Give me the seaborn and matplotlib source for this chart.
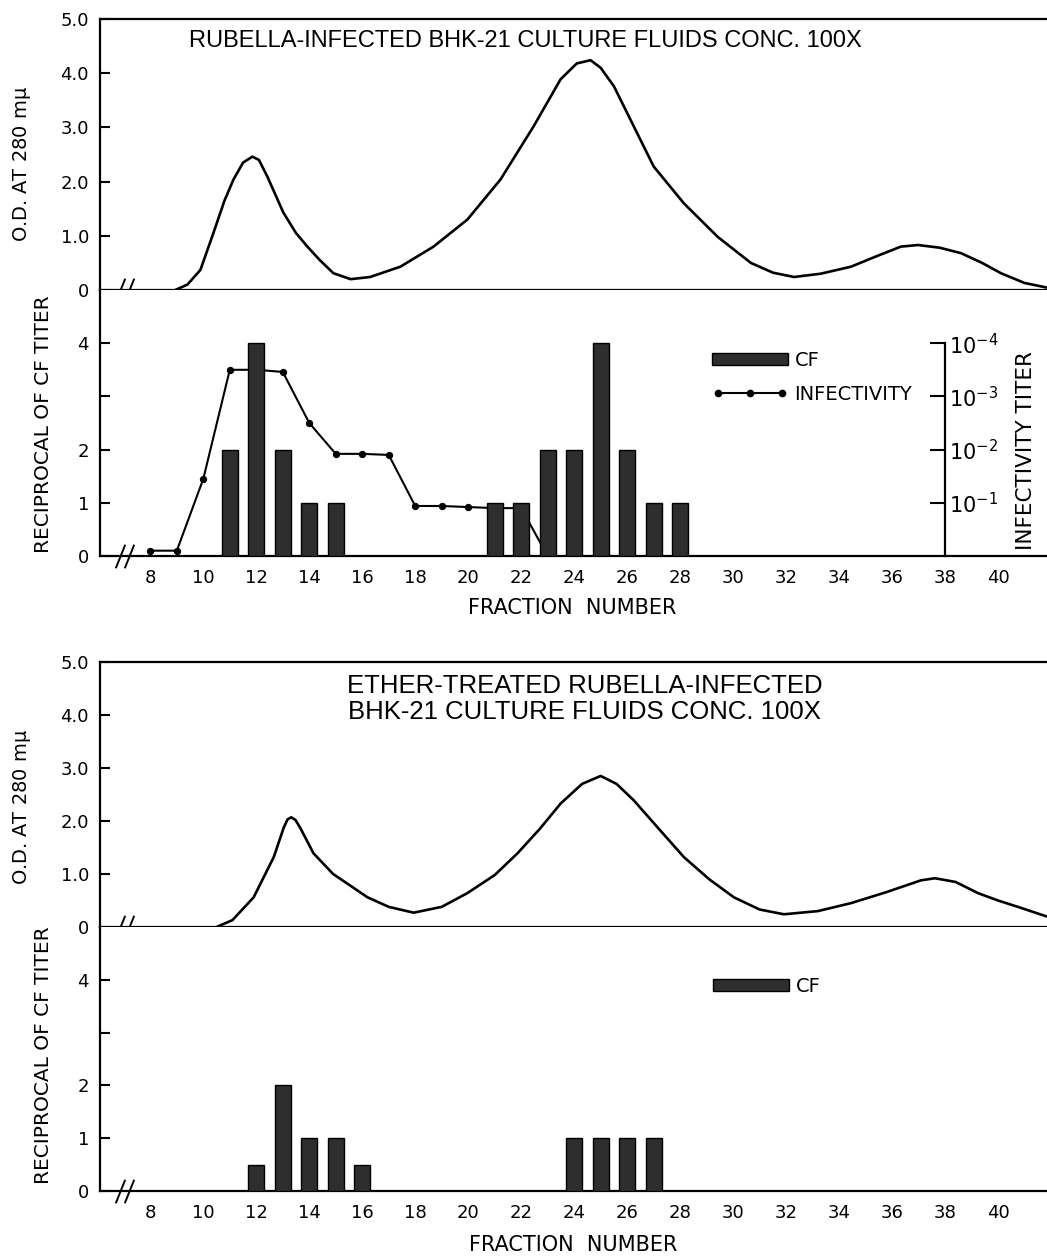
import numpy as np
import seaborn as sns
import matplotlib
matplotlib.use("Agg")
import matplotlib.pyplot as plt
from matplotlib.lines import Line2D
from matplotlib.patches import Patch

# ---- datos ----
# curva O.D. 280 mu, panel superior (fluidos infectados)
od1_frac = [8.94, 9.4, 9.89, 10.38, 10.8, 11.14, 11.5, 11.85, 12.1, 12.42, 13.02, 13.5,
            13.93, 14.4, 14.91, 15.56, 16.3, 17.44, 18.69, 19.97, 21.22, 22.47, 23.49,
            24.1, 24.62, 25.0, 25.5, 26.25, 27.0, 28.14, 29.42, 30.67, 31.5, 32.3, 33.3,
            34.45, 35.4, 36.33, 36.98, 37.8, 38.6, 39.4, 40.11, 41.0, 41.89]
od1_vals = [0, 0.1, 0.37, 1.05, 1.65, 2.04, 2.35, 2.46, 2.4, 2.09, 1.43, 1.05,
            0.8, 0.55, 0.31, 0.2, 0.24, 0.43, 0.8, 1.3, 2.04, 3.02, 3.89,
            4.18, 4.24, 4.1, 3.76, 3.02, 2.28, 1.6, 0.98, 0.5, 0.32, 0.24, 0.3,
            0.43, 0.62, 0.8, 0.83, 0.78, 0.68, 0.5, 0.31, 0.13, 0.04]

# CF y infectividad, panel superior
cf1_frac = [11, 12, 13, 14, 15, 21, 22, 23, 24, 25, 26, 27, 28]
cf1_vals = [2, 4, 2, 1, 1, 1, 1, 2, 2, 4, 2, 1, 1]
inf_frac = [8, 9, 10, 11, 12, 13, 14, 15, 16, 17, 18, 19, 20, 21, 22, 23]
inf_vals = [0.1, 0.1, 1.45, 3.5, 3.5, 3.46, 2.5, 1.92, 1.92, 1.9, 0.94, 0.94, 0.92, 0.9, 0.9, 0.0]

# curva O.D. panel inferior (tratado con eter)
od2_frac = [10.5, 11.1, 11.9, 12.66, 13.04, 13.18, 13.32, 13.48, 13.67, 14.16, 14.9, 16.2,
            17.0, 17.94, 19.0, 19.97, 21.0, 21.86, 22.7, 23.49, 24.3, 25.0, 25.6, 26.25,
            27.2, 28.14, 29.1, 30.03, 31.0, 31.92, 33.2, 34.45, 35.8, 37.09, 37.62, 38.4,
            39.24, 40.0, 40.75, 41.89]
od2_vals = [0, 0.13, 0.56, 1.32, 1.88, 2.03, 2.07, 2.02, 1.86, 1.39, 1.0, 0.56,
            0.38, 0.27, 0.38, 0.64, 0.98, 1.39, 1.85, 2.33, 2.7, 2.85, 2.7, 2.39,
            1.85, 1.32, 0.9, 0.56, 0.33, 0.24, 0.3, 0.45, 0.66, 0.88, 0.92, 0.85,
            0.64, 0.5, 0.38, 0.19]

cf2_frac = [12, 13, 14, 15, 16, 24, 25, 26, 27]
cf2_vals = [0.5, 2, 1, 1, 0.5, 1, 1, 1, 1]

od_ticks = [0, 1, 2, 3, 4, 5]
od_ticklabels = ["0", "1.0", "2.0", "3.0", "4.0", "5.0"]
cf_ticks = [0, 1, 2, 3, 4]
cf_ticklabels = ["0", "1", "2", "", "4"]
inf_ticks = [1, 2, 3, 4]
inf_ticklabels = [r"$10^{-1}$", r"$10^{-2}$", r"$10^{-3}$", r"$10^{-4}$"]
frac_ticks = list(range(8, 41, 2))

titulo1 = "RUBELLA-INFECTED BHK-21 CULTURE FLUIDS CONC. 100X"
titulo2 = "ETHER-TREATED RUBELLA-INFECTED\nBHK-21 CULTURE FLUIDS CONC. 100X"

sns.set_style("white")
plt.rcParams['font.family'] = ['DejaVu Sans']
plt.rcParams['mathtext.default'] = 'regular'
for k in ['text.color', 'axes.labelcolor', 'xtick.color', 'ytick.color']:
    plt.rcParams[k] = 'black'
fuente_titulo = ['Liberation Sans', 'DejaVu Sans']

W, H = 1047, 1257
fig = plt.figure(figsize=(W / 100, H / 100), dpi=100)

def caja(x0, y0, x1, y1):
    # convierte pixeles (arriba-izquierda) a fracciones de figura
    return [x0 / W, 1 - y1 / H, (x1 - x0) / W, (y1 - y0) / H]

XLIM = (6.1, 41.85)
BARRA = '#2e2e2e'

def panel_od(rect, frac, vals):
    ax = fig.add_axes(rect)
    sns.lineplot(x=frac, y=vals, ax=ax, color='black', linewidth=1.9)
    ax.set_xlim(XLIM)
    ax.set_ylim(0, 5)
    ax.set_yticks(od_ticks)
    ax.set_yticklabels(od_ticklabels, fontsize=13)
    ax.set_xticks([])
    ax.tick_params(axis='y', direction='in', length=7, width=1.5, pad=8, left=True)
    ax.spines['right'].set_visible(False)
    for s in ['left', 'top', 'bottom']:
        ax.spines[s].set_linewidth(1.6)
        ax.spines[s].set_color('black')
    ax.set_xlabel("")
    ax.set_ylabel("")
    return ax

def panel_cf(rect, frac, vals):
    ax = fig.add_axes(rect)
    sns.barplot(x=frac, y=vals, ax=ax, native_scale=True, width=0.6, color=BARRA,
                saturation=1, edgecolor='black', linewidth=1.0, zorder=3)
    ax.set_xlim(XLIM)
    ax.set_ylim(0, 5)
    ax.set_yticks(cf_ticks)
    ax.set_yticklabels(cf_ticklabels, fontsize=13)
    ax.set_xticks(frac_ticks)
    ax.set_xticklabels([str(t) for t in frac_ticks], fontsize=13)
    ax.tick_params(axis='y', direction='in', length=7, width=1.5, pad=8, left=True)
    ax.tick_params(axis='x', length=0, pad=9)
    ax.spines['top'].set_visible(False)
    ax.spines['right'].set_visible(False)
    for s in ['left', 'bottom']:
        ax.spines[s].set_linewidth(1.6)
        ax.spines[s].set_color('black')
    ax.set_xlabel("")
    ax.set_ylabel("")
    return ax

def corte(ax):
    # marca de eje interrumpido (//) sobre la linea base
    ax.plot([6.85, 7.2], [0, 0], linestyle='none', color='black', clip_on=False,
            marker=[(-1, -2.5), (1, 2.5)], markersize=17, markeredgewidth=1.4, zorder=5)

# ---- figura superior ----
ax1 = panel_od(caja(100, 19, W, 290), od1_frac, od1_vals)
ax2 = panel_cf(caja(100, 290, W, 556), cf1_frac, cf1_vals)
sns.lineplot(x=inf_frac, y=inf_vals, ax=ax2, color='black', linewidth=1.5,
             marker='o', markersize=4.5, markeredgecolor='black', zorder=2)
ax2.set_xlim(XLIM)
ax2.set_ylim(0, 5)
corte(ax1)
corte(ax2)
ax1.text(0.449, 0.919, titulo1, transform=ax1.transAxes, ha='center', va='center',
         fontsize=17, family=fuente_titulo)

# eje derecho de infectividad
ax2b = ax2.twinx()
ax2b.set_ylim(0, 5)
ax2b.spines['right'].set_position(('data', 38))
ax2b.spines['right'].set_bounds(0, 4)
ax2b.spines['right'].set_linewidth(1.6)
ax2b.spines['right'].set_color('black')
for s in ['left', 'top', 'bottom']:
    ax2b.spines[s].set_visible(False)
ax2b.set_yticks(inf_ticks)
ax2b.set_yticklabels(inf_ticklabels, fontsize=15)
ax2b.tick_params(axis='y', direction='in', length=11, width=1.5, pad=3, right=True)

h_cf = Patch(facecolor=BARRA, edgecolor='black', linewidth=1.0)
h_inf = Line2D([], [], color='black', linewidth=1.5, marker='o', markersize=4.5)
ax2.legend([h_cf, h_inf], ["CF", "INFECTIVITY"], loc='upper left',
           bbox_to_anchor=(29.2, 3.85), bbox_transform=ax2.transData, frameon=False,
           fontsize=14, handlelength=3.9, handleheight=0.6, handletextpad=0.35,
           labelspacing=0.75, borderpad=0, borderaxespad=0, numpoints=3)

# ---- figura inferior ----
ax3 = panel_od(caja(100, 662, W, 927), od2_frac, od2_vals)
ax4 = panel_cf(caja(100, 927, W, 1191), cf2_frac, cf2_vals)
corte(ax3)
corte(ax4)
ax3.text(0.512, 0.86, titulo2, transform=ax3.transAxes, ha='center', va='center',
         fontsize=18.5, family=fuente_titulo, linespacing=1.1)
ax4.legend([h_cf], ["CF"], loc='upper left', bbox_to_anchor=(29.25, 4.05),
           bbox_transform=ax4.transData, frameon=False, fontsize=14, handlelength=3.9,
           handleheight=0.6, handletextpad=0.35, borderpad=0, borderaxespad=0)

# ---- rotulos de ejes ----
def rotulo(x, y, s, rot=0, size=14):
    fig.text(x / W, 1 - y / H, s, rotation=rot, ha='center', va='center', fontsize=size)

rotulo(22, 164, "O.D. AT 280 m$\\mu$", rot=90, size=14)
rotulo(44, 424, "RECIPROCAL OF CF TITER", rot=90, size=14.5)
rotulo(1026, 451, "INFECTIVITY TITER", rot=90, size=15.5)
rotulo(572, 608, "FRACTION  NUMBER", size=15)
rotulo(22, 807, "O.D. AT 280 m$\\mu$", rot=90, size=14)
rotulo(44, 1055, "RECIPROCAL OF CF TITER", rot=90, size=14.5)
rotulo(573, 1245, "FRACTION  NUMBER", size=15)

fig.savefig("out.png", dpi=100)
